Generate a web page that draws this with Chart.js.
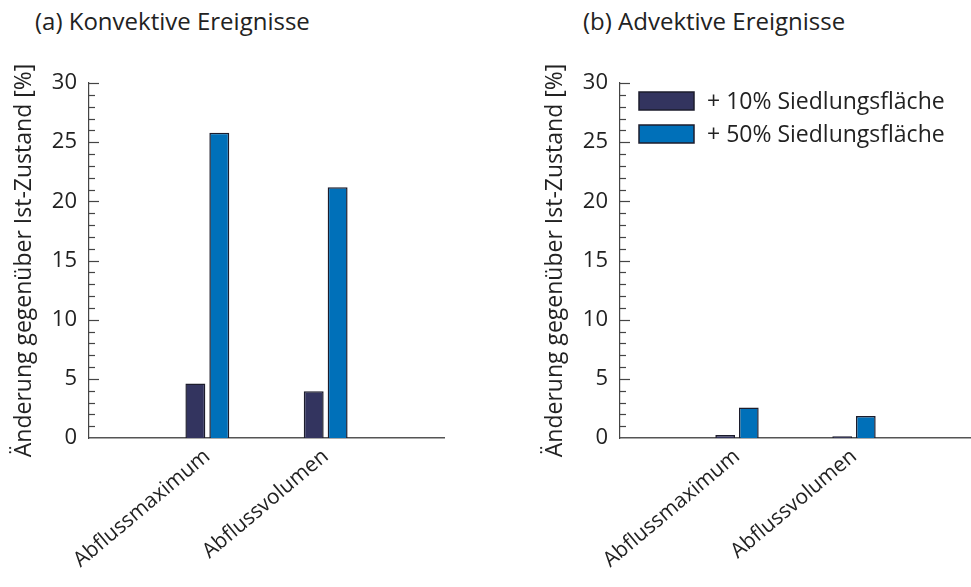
<!DOCTYPE html>
<html>
<head>
<meta charset="utf-8">
<script src="https://cdn.jsdelivr.net/npm/chart.js@4"></script>
<style>
body { margin: 0; width: 971px; height: 587px; background: #fff; position: relative; overflow: hidden; font-family: "Open Sans", sans-serif; }
.panel { position: absolute; top: 0; height: 587px; }
.titel { position: absolute; top: 4px; font-size: 24px; color: #222; white-space: nowrap; }
</style>
</head>
<body>
<div class="titel" style="left:35px">(a) Konvektive Ereignisse</div>
<div class="titel" style="left:583px">(b) Advektive Ereignisse</div>
<div class="panel" style="left:0;width:485px"><canvas id="chartKonv"></canvas></div>
<div class="panel" style="left:485px;width:486px"><canvas id="chartAdv"></canvas></div>

<script>
// Kategorien (leere Ränder, damit die Gruppen bei 1/3 und 2/3 sitzen)
const kategorien = ['', 'Abflussmaximum', 'Abflussvolumen', ''];
const serienNamen = ['+ 10% Siedlungsfläche', '+ 50% Siedlungsfläche'];

// Änderung gegenüber Ist-Zustand [%]
const konv10 = [null, 4.6, 3.95, null];
const konv50 = [null, 25.8, 21.2, null];
const adv10 = [null, 0.25, 0.14, null];
const adv50 = [null, 2.57, 1.86, null];

const yMin = 0, yMax = 30, yStep = 5;
const farben = ['#33345f', '#0070b9'];
const rahmen = '#1c1c2c';

// kurze Ticks nach innen, jede Einheit, lange bei Vielfachen von 5
const innenTicks = {
    id: 'innenTicks',
    afterDraw(chart) {
        const y = chart.scales.y;
        const ctx = chart.ctx;
        const x0 = chart.chartArea.left;
        ctx.save();
        ctx.strokeStyle = '#444';
        ctx.lineWidth = 1.2;
        for (let v = y.min + 1; v <= y.max; v++) {
            const py = Math.round(y.getPixelForValue(v)) + 0.5;
            const len = v % yStep === 0 ? 10 : 6;
            ctx.beginPath();
            ctx.moveTo(x0, py);
            ctx.lineTo(x0 + len, py);
            ctx.stroke();
        }
        ctx.restore();
    }
};

// Legende innerhalb der Zeichenfläche
const legendeInnen = {
    id: 'legendeInnen',
    afterDraw(chart, args, opts) {
        if (!opts.display) return;
        const ctx = chart.ctx;
        const area = chart.chartArea;
        ctx.save();
        ctx.font = '23px "Open Sans"';
        ctx.textBaseline = 'middle';
        chart.data.datasets.forEach((ds, i) => {
            const bx = area.left + 19;
            const by = area.top + 9 + i * 33;
            ctx.fillStyle = ds.backgroundColor;
            ctx.fillRect(bx, by, 55, 18);
            ctx.strokeStyle = ds.borderColor;
            ctx.lineWidth = 1.5;
            ctx.strokeRect(bx, by, 55, 18);
            ctx.fillStyle = '#222';
            ctx.fillText(ds.label, bx + 68, by + 10);
        });
        ctx.restore();
    }
};

function crearPanel(canvasId, serieA, serieB, padLinks, padRechts, mitLegende) {
    return new Chart(document.getElementById(canvasId), {
        type: 'bar',
        data: {
            labels: kategorien,
            datasets: [
                { label: serienNamen[0], data: serieA, backgroundColor: farben[0], borderColor: rahmen, borderWidth: 1.5 },
                { label: serienNamen[1], data: serieB, backgroundColor: farben[1], borderColor: rahmen, borderWidth: 1.5 }
            ]
        },
        options: {
            responsive: true,
            maintainAspectRatio: false,
            animation: false,
            categoryPercentage: 0.4045,
            barPercentage: 0.833,
            layout: { padding: { left: padLinks, right: padRechts, top: 83, bottom: 0 } },
            plugins: {
                legend: { display: false },
                tooltip: { enabled: false },
                legendeInnen: { display: mitLegende }
            },
            scales: {
                x: {
                    offset: false,
                    grid: { display: false, drawTicks: false },
                    border: { display: true, color: '#555', width: 1.5 },
                    ticks: {
                        autoSkip: false,
                        maxRotation: 40,
                        minRotation: 40,
                        padding: 6,
                        color: '#222',
                        font: { family: '"Open Sans"', size: 21 }
                    },
                    afterFit: s => { s.height = 149; s.paddingLeft = 0; s.paddingRight = 0; }
                },
                y: {
                    min: yMin,
                    max: yMax,
                    grid: { display: false, drawTicks: false },
                    border: { display: true, color: '#444', width: 1.2 },
                    ticks: {
                        stepSize: yStep,
                        padding: 12,
                        color: '#222',
                        font: { family: '"Open Sans"', size: 22 }
                    },
                    title: {
                        display: true,
                        text: 'Änderung gegenüber Ist-Zustand [%]',
                        color: '#222',
                        font: { family: '"Open Sans"', size: 23 },
                        padding: { top: 11, bottom: 0 }
                    },
                    afterFit: s => { s.width = 89; }
                }
            }
        },
        plugins: [innenTicks, legendeInnen]
    });
}

crearPanel('chartKonv', konv10, konv50, 0, 41, false);
crearPanel('chartAdv', adv10, adv50, 46, 0, true);
</script>
</body>
</html>
